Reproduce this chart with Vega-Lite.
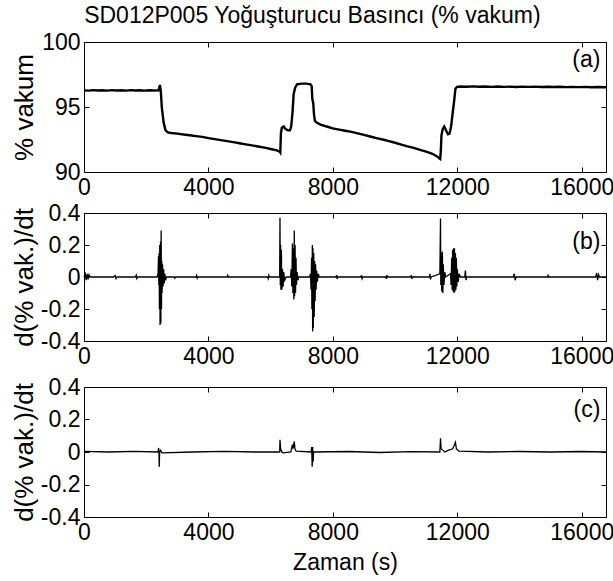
{
  "$schema": "https://vega.github.io/schema/vega-lite/v6.json",
  "padding": {"left": 10, "top": 4, "right": 0, "bottom": 0},
  "config": {
    "font": "Liberation Sans",
    "view": {"stroke": "black", "strokeWidth": 1},
    "axis": {"grid": false, "domain": false, "tickColor": "black", "labelColor": "black", "titleColor": "black", "labelFontSize": 23, "titleFontWeight": "normal", "labelFlush": false, "labelOverlap": false, "labelBound": false}
  },
  "title": {"text": "SD012P005 Yoğuşturucu Basıncı (% vakum)", "fontSize": 23, "fontWeight": "normal", "offset": 3, "anchor": "middle", "color": "black"},
  "datasets": {
    "a": [
      {"t": 0, "v": 96.28}, {"t": 150, "v": 96.26}, {"t": 300, "v": 96.3}, {"t": 450, "v": 96.27}, {"t": 600, "v": 96.29},
      {"t": 750, "v": 96.26}, {"t": 900, "v": 96.3}, {"t": 1050, "v": 96.27}, {"t": 1200, "v": 96.29}, {"t": 1350, "v": 96.26},
      {"t": 1500, "v": 96.3}, {"t": 1650, "v": 96.27}, {"t": 1800, "v": 96.29}, {"t": 1950, "v": 96.26}, {"t": 2100, "v": 96.29},
      {"t": 2250, "v": 96.27}, {"t": 2400, "v": 96.28}, {"t": 2440, "v": 96.7}, {"t": 2470, "v": 96.2}, {"t": 2500, "v": 95.0},
      {"t": 2520, "v": 94.6}, {"t": 2560, "v": 93.8}, {"t": 2620, "v": 93.2}, {"t": 2700, "v": 93.05}, {"t": 2800, "v": 93.0},
      {"t": 3000, "v": 92.95}, {"t": 3200, "v": 92.88}, {"t": 3400, "v": 92.83}, {"t": 3600, "v": 92.76}, {"t": 3800, "v": 92.7},
      {"t": 4000, "v": 92.61}, {"t": 4200, "v": 92.53}, {"t": 4400, "v": 92.45}, {"t": 4600, "v": 92.37}, {"t": 4800, "v": 92.3},
      {"t": 5000, "v": 92.21}, {"t": 5200, "v": 92.13}, {"t": 5400, "v": 92.05}, {"t": 5600, "v": 91.96}, {"t": 5800, "v": 91.87},
      {"t": 6000, "v": 91.77}, {"t": 6200, "v": 91.67}, {"t": 6290, "v": 91.57}, {"t": 6310, "v": 91.5}, {"t": 6330, "v": 93.0},
      {"t": 6360, "v": 93.4}, {"t": 6420, "v": 93.5}, {"t": 6480, "v": 93.3}, {"t": 6560, "v": 93.2}, {"t": 6620, "v": 93.2},
      {"t": 6660, "v": 93.5}, {"t": 6700, "v": 94.5}, {"t": 6740, "v": 96.0}, {"t": 6790, "v": 96.5}, {"t": 6850, "v": 96.75},
      {"t": 7000, "v": 96.8}, {"t": 7150, "v": 96.8}, {"t": 7280, "v": 96.75}, {"t": 7320, "v": 96.6}, {"t": 7340, "v": 95.6},
      {"t": 7370, "v": 95.3}, {"t": 7390, "v": 94.5}, {"t": 7420, "v": 93.95}, {"t": 7480, "v": 93.8}, {"t": 7600, "v": 93.65},
      {"t": 7800, "v": 93.5}, {"t": 8000, "v": 93.36}, {"t": 8200, "v": 93.26}, {"t": 8400, "v": 93.17}, {"t": 8600, "v": 93.09},
      {"t": 8800, "v": 92.97}, {"t": 9000, "v": 92.86}, {"t": 9200, "v": 92.73}, {"t": 9400, "v": 92.61}, {"t": 9600, "v": 92.5},
      {"t": 9800, "v": 92.37}, {"t": 10000, "v": 92.25}, {"t": 10200, "v": 92.11}, {"t": 10400, "v": 91.97}, {"t": 10600, "v": 91.85},
      {"t": 10800, "v": 91.7}, {"t": 11000, "v": 91.56}, {"t": 11200, "v": 91.4}, {"t": 11350, "v": 91.2}, {"t": 11420, "v": 91.05},
      {"t": 11450, "v": 91.0}, {"t": 11470, "v": 91.6}, {"t": 11490, "v": 92.8}, {"t": 11530, "v": 93.3}, {"t": 11580, "v": 93.5},
      {"t": 11640, "v": 93.2}, {"t": 11700, "v": 92.9}, {"t": 11750, "v": 92.95}, {"t": 11800, "v": 93.5}, {"t": 11850, "v": 94.5},
      {"t": 11900, "v": 95.5}, {"t": 11940, "v": 96.4}, {"t": 11990, "v": 96.55}, {"t": 12100, "v": 96.58}, {"t": 12300, "v": 96.56},
      {"t": 12500, "v": 96.59}, {"t": 12700, "v": 96.56}, {"t": 12900, "v": 96.58}, {"t": 13100, "v": 96.55}, {"t": 13300, "v": 96.58},
      {"t": 13500, "v": 96.55}, {"t": 13700, "v": 96.57}, {"t": 13900, "v": 96.54}, {"t": 14100, "v": 96.57}, {"t": 14300, "v": 96.55},
      {"t": 14500, "v": 96.57}, {"t": 14700, "v": 96.54}, {"t": 14900, "v": 96.56}, {"t": 15100, "v": 96.54}, {"t": 15300, "v": 96.56},
      {"t": 15500, "v": 96.53}, {"t": 15700, "v": 96.55}, {"t": 15900, "v": 96.53}, {"t": 16100, "v": 96.55}, {"t": 16300, "v": 96.52},
      {"t": 16500, "v": 96.54}, {"t": 16780, "v": 96.52}
    ],
    "b": [
      {"t": 0, "v": 0}, {"t": 40, "v": 0.02}, {"t": 70, "v": -0.02}, {"t": 100, "v": 0.02}, {"t": 130, "v": -0.015}, {"t": 160, "v": 0.015}, {"t": 200, "v": 0},
      {"t": 950, "v": 0}, {"t": 1000, "v": 0.01}, {"t": 1030, "v": -0.01}, {"t": 1060, "v": 0}, {"t": 1650, "v": 0}, {"t": 1680, "v": 0.012}, {"t": 1700, "v": -0.01}, {"t": 1730, "v": 0},
      {"t": 2350, "v": 0}, {"t": 2380, "v": 0.02}, {"t": 2395, "v": 0.13}, {"t": 2405, "v": -0.05}, {"t": 2415, "v": 0.15}, {"t": 2425, "v": -0.2},
      {"t": 2435, "v": 0.2}, {"t": 2445, "v": -0.3}, {"t": 2460, "v": 0.22}, {"t": 2470, "v": -0.29}, {"t": 2480, "v": 0.29}, {"t": 2490, "v": -0.2},
      {"t": 2500, "v": 0.1}, {"t": 2510, "v": -0.1}, {"t": 2525, "v": 0.08}, {"t": 2540, "v": -0.06}, {"t": 2560, "v": 0.05}, {"t": 2580, "v": -0.04},
      {"t": 2600, "v": 0.02}, {"t": 2620, "v": -0.02}, {"t": 2650, "v": 0}, {"t": 2900, "v": 0}, {"t": 2920, "v": -0.008}, {"t": 2940, "v": 0},
      {"t": 3600, "v": 0}, {"t": 3620, "v": 0.01}, {"t": 3640, "v": -0.008}, {"t": 3660, "v": 0}, {"t": 4600, "v": 0}, {"t": 4620, "v": 0.01}, {"t": 4640, "v": 0},
      {"t": 5900, "v": 0}, {"t": 5920, "v": -0.01}, {"t": 5940, "v": 0.01}, {"t": 5960, "v": 0},
      {"t": 6290, "v": 0}, {"t": 6300, "v": 0.37}, {"t": 6310, "v": -0.05}, {"t": 6320, "v": 0.2}, {"t": 6330, "v": -0.08}, {"t": 6345, "v": 0.17},
      {"t": 6360, "v": -0.08}, {"t": 6380, "v": 0.05}, {"t": 6400, "v": -0.06}, {"t": 6420, "v": 0.03}, {"t": 6450, "v": -0.02}, {"t": 6500, "v": 0},
      {"t": 6640, "v": 0}, {"t": 6660, "v": 0.05}, {"t": 6680, "v": -0.06}, {"t": 6700, "v": 0.21}, {"t": 6715, "v": -0.1}, {"t": 6730, "v": 0.18},
      {"t": 6745, "v": -0.14}, {"t": 6760, "v": 0.29}, {"t": 6770, "v": -0.12}, {"t": 6785, "v": 0.2}, {"t": 6800, "v": -0.1}, {"t": 6815, "v": 0.12},
      {"t": 6830, "v": -0.05}, {"t": 6850, "v": 0.03}, {"t": 6880, "v": -0.02}, {"t": 6900, "v": 0},
      {"t": 7260, "v": 0}, {"t": 7280, "v": 0.02}, {"t": 7300, "v": -0.08}, {"t": 7315, "v": 0.12}, {"t": 7325, "v": -0.2}, {"t": 7340, "v": 0.2},
      {"t": 7350, "v": -0.34}, {"t": 7360, "v": 0.18}, {"t": 7370, "v": -0.32}, {"t": 7385, "v": 0.15}, {"t": 7400, "v": -0.25}, {"t": 7415, "v": 0.1},
      {"t": 7430, "v": -0.15}, {"t": 7445, "v": 0.08}, {"t": 7460, "v": -0.08}, {"t": 7480, "v": 0.04}, {"t": 7500, "v": -0.03}, {"t": 7530, "v": 0.02}, {"t": 7560, "v": 0},
      {"t": 8100, "v": 0}, {"t": 8120, "v": 0.012}, {"t": 8140, "v": -0.012}, {"t": 8160, "v": 0}, {"t": 8900, "v": 0}, {"t": 8920, "v": 0.012}, {"t": 8940, "v": -0.01}, {"t": 8960, "v": 0},
      {"t": 9700, "v": 0}, {"t": 9720, "v": -0.012}, {"t": 9740, "v": 0.012}, {"t": 9760, "v": 0}, {"t": 10500, "v": 0}, {"t": 10520, "v": 0.012}, {"t": 10540, "v": -0.012}, {"t": 10560, "v": 0},
      {"t": 11100, "v": 0}, {"t": 11120, "v": 0.02}, {"t": 11140, "v": -0.015}, {"t": 11160, "v": 0},
      {"t": 11440, "v": 0.02}, {"t": 11460, "v": 0.365}, {"t": 11470, "v": -0.05}, {"t": 11490, "v": 0.15}, {"t": 11500, "v": -0.09}, {"t": 11520, "v": 0.16},
      {"t": 11535, "v": -0.1}, {"t": 11550, "v": 0.08}, {"t": 11570, "v": -0.05}, {"t": 11600, "v": 0.03}, {"t": 11630, "v": 0},
      {"t": 11780, "v": 0.02}, {"t": 11800, "v": -0.05}, {"t": 11820, "v": 0.12}, {"t": 11835, "v": -0.08}, {"t": 11850, "v": 0.17}, {"t": 11865, "v": -0.09},
      {"t": 11880, "v": 0.18}, {"t": 11895, "v": -0.1}, {"t": 11910, "v": 0.18}, {"t": 11925, "v": -0.09}, {"t": 11940, "v": 0.15}, {"t": 11955, "v": -0.08},
      {"t": 11970, "v": 0.12}, {"t": 11985, "v": -0.06}, {"t": 12000, "v": 0.05}, {"t": 12030, "v": -0.03}, {"t": 12060, "v": 0.02}, {"t": 12100, "v": 0},
      {"t": 12240, "v": 0}, {"t": 12260, "v": 0.04}, {"t": 12280, "v": -0.02}, {"t": 12300, "v": 0},
      {"t": 13800, "v": 0}, {"t": 13830, "v": 0.02}, {"t": 13860, "v": -0.02}, {"t": 13890, "v": 0}, {"t": 14900, "v": 0}, {"t": 14920, "v": 0.01}, {"t": 14940, "v": 0},
      {"t": 16450, "v": 0}, {"t": 16480, "v": 0.025}, {"t": 16510, "v": -0.02}, {"t": 16540, "v": 0.015}, {"t": 16570, "v": 0}, {"t": 16780, "v": 0}
    ],
    "c": [
      {"t": 0, "v": 0.004}, {"t": 800, "v": 0.0}, {"t": 1600, "v": 0.004}, {"t": 2380, "v": 0.0}, {"t": 2400, "v": 0.025}, {"t": 2410, "v": -0.01},
      {"t": 2420, "v": -0.09}, {"t": 2430, "v": 0.0}, {"t": 2460, "v": 0.01}, {"t": 2500, "v": -0.005}, {"t": 3500, "v": 0.0}, {"t": 4500, "v": 0.004},
      {"t": 5500, "v": 0.0}, {"t": 6290, "v": 0.0}, {"t": 6300, "v": 0.075}, {"t": 6320, "v": 0.02}, {"t": 6360, "v": 0.0}, {"t": 6400, "v": -0.005},
      {"t": 6650, "v": 0.0}, {"t": 6700, "v": 0.045}, {"t": 6720, "v": 0.02}, {"t": 6760, "v": 0.065}, {"t": 6780, "v": 0.02}, {"t": 6820, "v": 0.005},
      {"t": 7300, "v": 0.0}, {"t": 7320, "v": 0.03}, {"t": 7335, "v": -0.09}, {"t": 7350, "v": 0.03}, {"t": 7365, "v": -0.06}, {"t": 7380, "v": 0.0},
      {"t": 8500, "v": 0.003}, {"t": 9500, "v": -0.003}, {"t": 10500, "v": 0.002}, {"t": 11440, "v": 0.0}, {"t": 11460, "v": 0.085}, {"t": 11480, "v": 0.02},
      {"t": 11540, "v": 0.01}, {"t": 11600, "v": 0.0}, {"t": 11700, "v": 0.01}, {"t": 11850, "v": 0.02}, {"t": 11900, "v": 0.04}, {"t": 11940, "v": 0.06},
      {"t": 11970, "v": 0.02}, {"t": 12050, "v": 0.005}, {"t": 13000, "v": 0.0}, {"t": 14000, "v": 0.003}, {"t": 15000, "v": 0.0}, {"t": 16000, "v": 0.003}, {"t": 16780, "v": 0.0}
    ]
  },
  "spacing": 41,
  "bounds": "flush",
  "vconcat": [
    {
      "width": 522, "height": 130,
      "resolve": {"axis": {"x": "independent", "y": "independent"}},
      "layer": [
        {
          "data": {"name": "a"},
          "mark": {"type": "line", "color": "black", "strokeWidth": 2.4},
          "encoding": {
            "x": {"field": "t", "type": "quantitative", "scale": {"domain": [0, 16780], "nice": false, "zero": false},
              "axis": {"orient": "bottom", "values": [0, 4000, 8000, 12000, 16000], "format": "d", "title": null, "tickSize": -5, "labelPadding": 9}},
            "y": {"field": "v", "type": "quantitative", "scale": {"domain": [90, 100], "nice": false, "zero": false},
              "axis": {"orient": "left", "values": [90, 95, 100], "format": "d", "title": "% vakum", "titleFontSize": 26, "titleX": -52, "titleY": 65, "titleBaseline": "alphabetic", "titleAngle": -90, "tickSize": -5, "labelPadding": 9}}
          }
        },
        {
          "data": {"values": [{"t": 16600, "v": 98.6, "lab": "(a)"}]},
          "mark": {"type": "text", "align": "right", "baseline": "middle", "fontSize": 23, "color": "black"},
          "encoding": {
            "x": {"field": "t", "type": "quantitative", "axis": {"orient": "top", "values": [0, 4000, 8000, 12000, 16000], "labels": false, "title": null, "tickSize": -5}},
            "y": {"field": "v", "type": "quantitative", "axis": {"orient": "right", "values": [90, 95, 100], "labels": false, "title": null, "tickSize": -5}},
            "text": {"field": "lab"}
          }
        }
      ]
    },
    {
      "spacing": 46,
      "bounds": "flush",
      "vconcat": [
        {
          "width": 522, "height": 128,
          "resolve": {"axis": {"x": "independent", "y": "independent"}},
          "layer": [
            {
              "data": {"name": "b"},
              "mark": {"type": "line", "color": "black", "strokeWidth": 1.3},
              "encoding": {
                "x": {"field": "t", "type": "quantitative", "scale": {"domain": [0, 16780], "nice": false, "zero": false},
                  "axis": {"orient": "bottom", "values": [0, 4000, 8000, 12000, 16000], "format": "d", "title": null, "tickSize": -5, "labelPadding": 9}},
                "y": {"field": "v", "type": "quantitative", "scale": {"domain": [-0.4, 0.4], "nice": false, "zero": false},
                  "axis": {"orient": "left", "values": [-0.4, -0.2, 0, 0.2, 0.4], "labelExpr": "datum.value == 0 ? '0' : (datum.value < 0 ? '-' : '') + format(abs(datum.value), '.1f')", "title": "d(% vak.)/dt", "titleFontSize": 26, "titleX": -52, "titleY": 64, "titleBaseline": "alphabetic", "titleAngle": -90, "tickSize": -5, "labelPadding": 9}}
              }
            },
            {
              "data": {"values": [{"t": 16600, "v": 0.22, "lab": "(b)"}]},
              "mark": {"type": "text", "align": "right", "baseline": "middle", "fontSize": 23, "color": "black"},
              "encoding": {
                "x": {"field": "t", "type": "quantitative", "axis": {"orient": "top", "values": [0, 4000, 8000, 12000, 16000], "labels": false, "title": null, "tickSize": -5}},
                "y": {"field": "v", "type": "quantitative", "axis": {"orient": "right", "values": [-0.4, -0.2, 0, 0.2, 0.4], "labels": false, "title": null, "tickSize": -5}},
                "text": {"field": "lab"}
              }
            }
          ]
        },
        {
          "width": 522, "height": 130,
          "resolve": {"axis": {"x": "independent", "y": "independent"}},
          "layer": [
            {
              "data": {"name": "c"},
              "mark": {"type": "line", "color": "black", "strokeWidth": 1.3},
              "encoding": {
                "x": {"field": "t", "type": "quantitative", "scale": {"domain": [0, 16780], "nice": false, "zero": false},
                  "axis": {"orient": "bottom", "values": [0, 4000, 8000, 12000, 16000], "format": "d", "title": "Zaman (s)", "titleFontSize": 23, "titleY": 52, "titleBaseline": "alphabetic", "tickSize": -5, "labelPadding": 9}},
                "y": {"field": "v", "type": "quantitative", "scale": {"domain": [-0.4, 0.4], "nice": false, "zero": false},
                  "axis": {"orient": "left", "values": [-0.4, -0.2, 0, 0.2, 0.4], "labelExpr": "datum.value == 0 ? '0' : (datum.value < 0 ? '-' : '') + format(abs(datum.value), '.1f')", "title": "d(% vak.)/dt", "titleFontSize": 26, "titleX": -52, "titleY": 65, "titleBaseline": "alphabetic", "titleAngle": -90, "tickSize": -5, "labelPadding": 9}}
              }
            },
            {
              "data": {"values": [{"t": 16600, "v": 0.26, "lab": "(c)"}]},
              "mark": {"type": "text", "align": "right", "baseline": "middle", "fontSize": 23, "color": "black"},
              "encoding": {
                "x": {"field": "t", "type": "quantitative", "axis": {"orient": "top", "values": [0, 4000, 8000, 12000, 16000], "labels": false, "title": null, "tickSize": -5}},
                "y": {"field": "v", "type": "quantitative", "axis": {"orient": "right", "values": [-0.4, -0.2, 0, 0.2, 0.4], "labels": false, "title": null, "tickSize": -5}},
                "text": {"field": "lab"}
              }
            }
          ]
        }
      ]
    }
  ]
}
